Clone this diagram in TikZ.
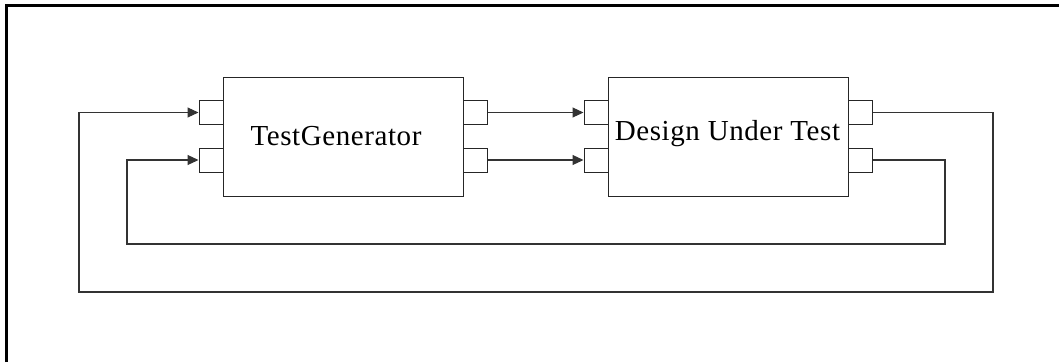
\documentclass[tikz,border=0pt]{standalone}
\usepackage{fontspec}
\setmainfont{Liberation Serif}
\newfontfamily\lblfont[LetterSpace=2.0]{Liberation Serif}
\usetikzlibrary{arrows.meta}
\begin{document}
\begin{tikzpicture}[x=1pt,y=-1pt,
  blockbox/.style={draw=black!85,line width=1pt,minimum width=240pt,minimum height=119pt,inner sep=0pt},
  portbox/.style={draw=black!85,line width=1pt,minimum width=24pt,minimum height=24pt,inner sep=0pt},
  wire/.style={draw=black!80,line width=1.1pt},
  arr/.style={wire,-{Triangle[length=11pt,width=10pt]}},
  lbl/.style={font=\lblfont\fontsize{29}{34}\selectfont,anchor=base,inner sep=0pt}]
\useasboundingbox (0,0) rectangle (1059,362);
% frame
\draw[line width=3pt,black] (6,362) -- (6,5) -- (1059,5);
% blocks
\node[blockbox] (tg) at (343,136.5) {};
\node[blockbox] (dut) at (728,136.5) {};
\node[lbl] (tgl) at (336,145) {TestGenerator};
\node[lbl] (dutl) at (727.5,140) {Design Under Test};
% ports
\node[portbox] (tgi1) at (211,112.5) {};
\node[portbox] (tgi2) at (211,160) {};
\node[portbox] (tgo1) at (475.5,112.5) {};
\node[portbox] (tgo2) at (475.5,160) {};
\node[portbox] (dui1) at (596,112.5) {};
\node[portbox] (dui2) at (596,160) {};
\node[portbox] (duo1) at (860.5,112.5) {};
\node[portbox] (duo2) at (860.5,160) {};
% corners of loops
\coordinate (ro) at (993,292);
\coordinate (lo) at (79,292);
\coordinate (ri) at (945,244);
\coordinate (li) at (127,244);
% connectors
\draw[arr] (tgo1.east) -- (dui1.west);
\draw[arr] (tgo2.east) -- (dui2.west);
\draw[arr] (duo1.east) -| (ro) -- (lo) |- (tgi1.west);
\draw[arr] (duo2.east) -| (ri) -- (li) |- (tgi2.west);
\end{tikzpicture}
\end{document}
